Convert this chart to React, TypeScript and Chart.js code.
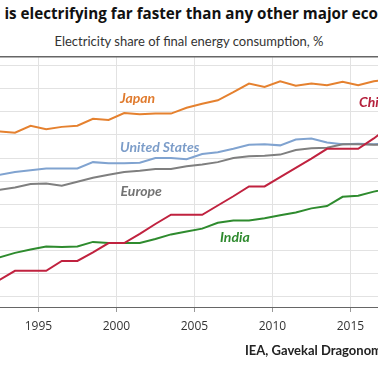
import React, { useEffect, useRef } from "react";
import { Chart, registerables } from "chart.js";

Chart.register(...registerables);

// ---- data (electricity share of final energy consumption, %) ----
const YEARS = [
  1991, 1992, 1993, 1994, 1995, 1996, 1997, 1998, 1999, 2000, 2001, 2002, 2003, 2004,
  2005, 2006, 2007, 2008, 2009, 2010, 2011, 2012, 2013, 2014, 2015, 2016, 2017,
];
const JAPAN = [
  20.2, 20.3, 20.2, 20.8, 20.5, 20.7, 20.8, 21.4, 21.3, 21.9, 21.8, 21.85, 21.85, 22.35,
  22.7, 23.0, 23.7, 24.45, 24.15, 24.65, 24.25, 24.45, 24.3, 24.6, 24.3, 24.65, 24.8,
];
const UNITED_STATES = [
  16.4, 16.55, 16.8, 16.95, 17.1, 17.1, 17.1, 17.65, 17.55, 17.55, 17.6, 18.0, 18.0, 17.9,
  18.35, 18.5, 18.8, 19.15, 19.2, 19.1, 19.6, 19.7, 19.35, 19.2, 19.25, 19.2, 19.25,
];
const EUROPE = [
  15.1, 15.25, 15.45, 15.75, 15.8, 15.6, 15.95, 16.3, 16.55, 16.8, 16.9, 17.05, 17.05, 17.3,
  17.45, 17.65, 18.0, 18.15, 18.2, 18.3, 18.7, 18.85, 18.9, 19.2, 19.2, 19.15, 19.15,
];
const CHINA = [
  6.65, 7.45, 8.25, 8.25, 8.25, 9.1, 9.1, 9.85, 10.65, 10.65, 11.45, 12.3, 13.1, 13.1,
  13.1, 13.9, 14.7, 15.55, 15.55, 16.35, 17.15, 17.95, 18.8, 18.8, 18.8, 19.7, 20.7,
];
const INDIA = [
  9.1, 9.4, 9.8, 10.1, 10.35, 10.3, 10.35, 10.75, 10.65, 10.65, 10.65, 11.0, 11.4, 11.65,
  11.9, 12.4, 12.6, 12.6, 12.8, 13.05, 13.3, 13.65, 13.85, 14.65, 14.75, 15.1, 15.4,
];
const TICK_YEARS = [1995, 2000, 2005, 2010, 2015];
const GRID_VALUES = [6, 8, 10, 12, 14, 16, 18, 20, 22, 24, 26];

const TITLE = "China is electrifying far faster than any other major economy";
const SUBTITLE = "Electricity share of final energy consumption, %";
const SOURCE = "IEA, Gavekal Dragonomics";

// series label annotations (data coordinates)
const SERIES_LABELS = [
  { text: "Japan", color: "#E07B2E", x: 1999.73, y: 23.13 },
  { text: "United States", color: "#7C9DC9", x: 1999.73, y: 18.96 },
  { text: "Europe", color: "#737373", x: 1999.77, y: 15.13 },
  { text: "India", color: "#2E8A2E", x: 2006.14, y: 11.09 },
  { text: "China", color: "#B5203C", x: 2015.05, y: 22.79 },
];

const toPoints = (vals: number[]) => YEARS.map((yr, i) => ({ x: yr, y: vals[i] }));

const labelPlugin = {
  id: "seriesLabels",
  afterDatasetsDraw(chart: any) {
    const { ctx, chartArea, scales } = chart;
    ctx.save();
    // top rule
    ctx.strokeStyle = "#666";
    ctx.lineWidth = 1.5;
    ctx.beginPath();
    ctx.moveTo(0, chartArea.top + 0.75);
    ctx.lineTo(chart.width, chartArea.top + 0.75);
    ctx.stroke();
    ctx.font = "italic bold 14px Lato";
    ctx.textBaseline = "middle";
    ctx.textAlign = "left";
    for (const l of SERIES_LABELS) {
      ctx.fillStyle = l.color;
      ctx.fillText(l.text, scales.x.getPixelForValue(l.x), scales.y.getPixelForValue(l.y));
    }
    ctx.restore();
  },
};

function LineChart() {
  const ref = useRef<HTMLCanvasElement | null>(null);
  useEffect(() => {
    if (!ref.current) return;
    const mk = (label: string, data: number[], color: string, order: number) => ({
      label,
      data: toPoints(data),
      borderColor: color,
      backgroundColor: color,
      borderWidth: 2,
      pointRadius: 0,
      tension: 0,
      order,
    });
    const chart = new Chart(ref.current, {
      type: "line",
      data: {
        datasets: [
          mk("Japan", JAPAN, "#E5812F", 5),
          mk("United States", UNITED_STATES, "#80A3D0", 4),
          mk("Europe", EUROPE, "#7F7F7F", 3),
          mk("India", INDIA, "#2E8B2E", 2),
          mk("China", CHINA, "#C0223F", 1),
        ],
      },
      options: {
        animation: false,
        responsive: false,
        devicePixelRatio: 1,
        layout: { padding: { top: 0, left: 0, right: 0, bottom: 5.6 } },
        plugins: { legend: { display: false }, tooltip: { enabled: false }, title: { display: false } },
        scales: {
          x: {
            type: "linear",
            min: 1992.04,
            max: 2016.27,
            afterBuildTicks: (s: any) => {
              s.ticks = TICK_YEARS.map((y) => ({ value: y - 0.5 }));
            },
            ticks: {
              autoSkip: false,
              maxRotation: 0,
              padding: 7,
              color: "#333",
              font: { family: "Open Sans", size: 12 },
              callback: (v: any) => String(Math.round(Number(v) + 0.5)),
            },
            grid: { color: "#e2e2e2", lineWidth: 1, tickLength: 5, tickColor: "#999" },
            border: { display: true, color: "#666", width: 1 },
          },
          y: {
            type: "linear",
            min: 5.12,
            max: 26.83,
            afterBuildTicks: (s: any) => {
              s.ticks = GRID_VALUES.map((v) => ({ value: v }));
            },
            ticks: { display: false },
            grid: { color: "#e2e2e2", lineWidth: 1, drawTicks: false },
            border: { display: false },
          },
        },
      },
      plugins: [labelPlugin],
    } as any);
    return () => chart.destroy();
  }, []);
  return (
    <canvas
      ref={ref}
      width={378}
      height={290}
      style={{ position: "absolute", left: 0, top: 56, width: 378, height: 290 }}
    />
  );
}

export default function App() {
  return (
    <div
      style={{
        position: "fixed",
        left: 0,
        top: 0,
        width: 378,
        height: 370,
        overflow: "hidden",
        background: "#fff",
      }}
    >
      <div
        style={{
          position: "absolute",
          left: 0,
          top: 3,
          width: 378,
          display: "flex",
          justifyContent: "center",
          whiteSpace: "nowrap",
          fontFamily: "Open Sans",
          fontWeight: 700,
          fontSize: 15.2,
          lineHeight: "20px",
          color: "#111",
        }}
      >
        <span>{TITLE}</span>
      </div>
      <div
        style={{
          position: "absolute",
          left: 0,
          top: 34,
          width: 378,
          display: "flex",
          justifyContent: "center",
          whiteSpace: "nowrap",
          fontFamily: "Lato",
          fontSize: 13,
          lineHeight: "15px",
          color: "#333",
        }}
      >
        <span>{SUBTITLE}</span>
      </div>
      <LineChart />
      <div
        style={{
          position: "absolute",
          left: 245,
          top: 342,
          whiteSpace: "nowrap",
          fontFamily: "Lato",
          fontWeight: 700,
          fontSize: 13,
          lineHeight: "16px",
          color: "#222",
        }}
      >
        {SOURCE}
      </div>
    </div>
  );
}
